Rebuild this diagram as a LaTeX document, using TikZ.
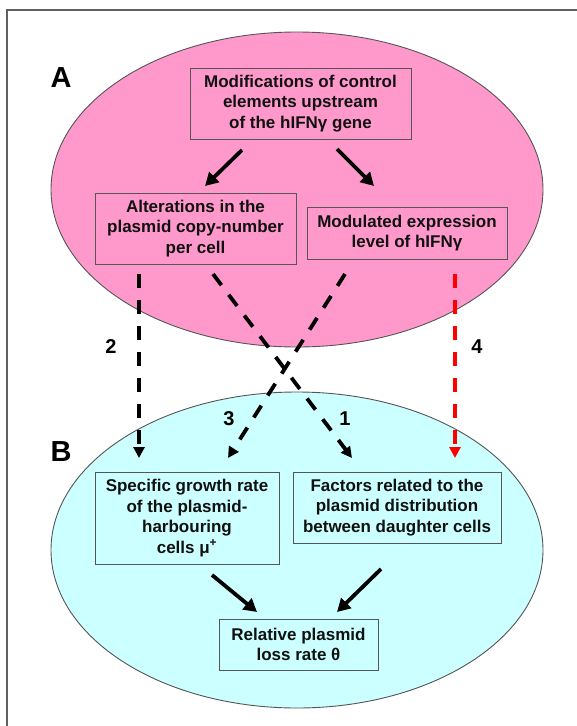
\documentclass[tikz,border=0pt]{standalone}
\usepackage{fontspec}
\setmainfont{Liberation Sans}
\usetikzlibrary{arrows.meta,calc}
\definecolor{pinkfill}{HTML}{FF99CC}
\definecolor{cyanfill}{HTML}{CCFFFF}
\definecolor{edgegray}{HTML}{555555}
\definecolor{framegray}{HTML}{606060}
\definecolor{textdark}{HTML}{111111}
\begin{document}
\begin{tikzpicture}[x=1pt,y=-1pt,
  box/.style={draw=edgegray, line width=0.9pt, inner sep=0pt, align=center,
    text=textdark, font=\fontsize{17}{20.5}\selectfont\bfseries},
  zone/.style={draw=edgegray, line width=0.9pt},
  bigarrow/.style={line width=3.8pt, -{Triangle[length=13pt,width=14pt]}},
  dasharrow/.style={line width=3.8pt, dash pattern=on 14pt off 12pt,
    -{Triangle[length=11pt,width=11pt]}},
  zonelabel/.style={font=\fontsize{29}{29}\selectfont\bfseries, inner sep=0pt},
  numlabel/.style={font=\fontsize{20}{20}\selectfont\bfseries, inner sep=0pt}
]
\useasboundingbox (0,0) rectangle (577,726);
\fill[white] (0,0) rectangle (577,726);
% frame (only top and left edges visible)
\draw[framegray, line width=1.6pt] (7,726) -- (7,10) -- (577,10);

% zones
\draw[zone, fill=pinkfill] (297,189.5) ellipse [x radius=246, y radius=157.5];
\draw[zone, fill=cyanfill] (297,550) ellipse [x radius=246, y radius=158];

\node[zonelabel] (labA) at (61,78) {A};
\node[zonelabel] (labB) at (61,452) {B};

% boxes
\node[box, minimum width=221pt, minimum height=71pt] (mod) at (300.5,103.5)
  {Modifications of control\\elements upstream\\of the hIFNγ gene};
\node[box, minimum width=201pt, minimum height=71pt] (alt) at (195.5,228.5)
  {Alterations in the\\plasmid copy-number\\per cell};
\node[box, minimum width=200pt, minimum height=52pt] (modexp) at (407,233)
  {Modulated expression\\level of hIFNγ};
\node[box, minimum width=184pt, minimum height=92pt] (spec) at (187,518)
  {Specific growth rate\\of the plasmid-\\harbouring\\cells μ\textsuperscript{+}};
\node[box, minimum width=208pt, minimum height=71pt] (fact) at (397,507.5)
  {Factors related to the\\plasmid distribution\\between daughter cells};
\node[box, minimum width=159pt, minimum height=51pt] (rel) at (298.5,644.5)
  {Relative plasmid\\loss rate θ};

% solid arrows
\coordinate (m1) at (242,150);
\coordinate (m1t) at (205,186);
\coordinate (m2) at (337,149);
\coordinate (m2t) at (374,186);
\draw[bigarrow] (m1) -- (m1t);
\draw[bigarrow] (m2) -- (m2t);

\coordinate (b1) at (212,575);
\coordinate (b1t) at (257,612);
\coordinate (b2) at (381,569);
\coordinate (b2t) at (337,612);
\draw[bigarrow] (b1) -- (b1t);
\draw[bigarrow] (b2) -- (b2t);

% dashed arrows
\coordinate (d2s) at (139,274);
\coordinate (d2e) at (139,458);
\coordinate (d1s) at (213,274);
\coordinate (d1e) at (352,458);
\coordinate (d3s) at (345,274);
\coordinate (d3e) at (228,458);
\coordinate (d4s) at (455,274);
\coordinate (d4e) at (455,458);
\draw[dasharrow] (d2s) -- (d2e);
\draw[dasharrow] (d1s) -- (d1e);
\draw[dasharrow] (d3s) -- (d3e);
\draw[dasharrow, red, line width=3.4pt] (d4s) -- (d4e);

\node[numlabel] (n2) at (111,347) {2};
\node[numlabel] (n4) at (477,347) {4};
\node[numlabel] (n3) at (229,419) {3};
\node[numlabel] (n1) at (345,419) {1};
\end{tikzpicture}
\end{document}
